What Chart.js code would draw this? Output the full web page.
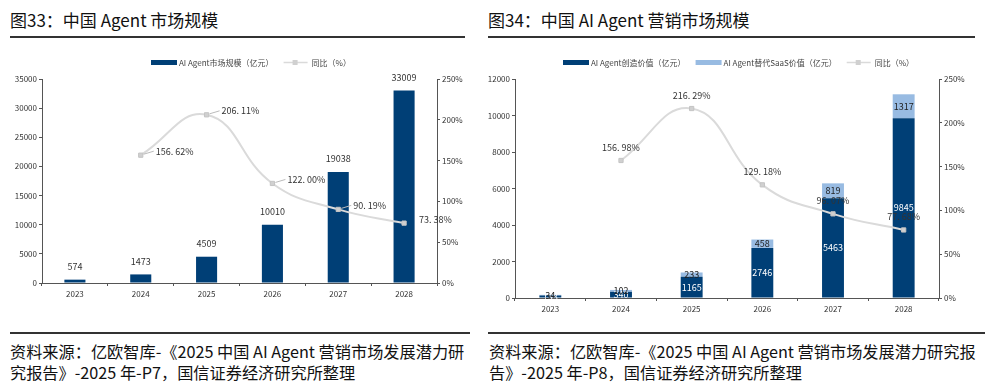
<!DOCTYPE html>
<html><head><meta charset="utf-8">
<script src="https://cdn.jsdelivr.net/npm/chart.js@4/dist/chart.umd.min.js"></script>
<style>
html,body{margin:0;padding:0;background:#fff;width:995px;height:389px;overflow:hidden;font-family:"Noto Sans CJK SC","Noto Sans",sans-serif;}
.abs{position:absolute;}
.title{font-size:17px;color:#111;white-space:nowrap;line-height:20px;}
.rule{background:#333;}
.src{font-size:16.2px;color:#111;line-height:21px;white-space:nowrap;}
</style></head><body>
<div class="abs title" style="left:10px;top:10px;">图33：中国 Agent 市场规模</div>
<div class="abs rule" style="left:10px;top:36px;width:455px;height:2px;"></div>
<div class="abs title" style="left:488px;top:10px;">图34：中国 AI Agent 营销市场规模</div>
<div class="abs rule" style="left:488px;top:36px;width:487px;height:2px;"></div>

<div class="abs" style="left:0;top:40px;width:480px;height:263px;"><canvas id="c1" width="480" height="263"></canvas></div>
<div class="abs" style="left:480px;top:40px;width:515px;height:278px;"><canvas id="c2" width="515" height="278"></canvas></div>

<div class="abs rule" style="left:10px;top:332px;width:460px;height:2px;"></div>
<div class="abs rule" style="left:488px;top:332px;width:497px;height:2px;"></div>
<div class="abs src" style="left:10px;top:341px;">资料来源：亿欧智库-《2025 中国 AI Agent 营销市场发展潜力研<br>究报告》-2025 年-P7，国信证券经济研究所整理</div>
<div class="abs src" style="left:489px;top:341px;">资料来源：亿欧智库-《2025 中国 AI Agent 营销市场发展潜力研究报<br>告》-2025 年-P8，国信证券经济研究所整理</div>

<script>
const years = ['2023','2024','2025','2026','2027','2028'];
const marketSize = [574, 1473, 4509, 10010, 19038, 33009];
const marketYoY = [null, 156.62, 206.11, 122.00, 90.19, 73.38];
const createdValue = [138, 340, 1165, 2746, 5463, 9845];
const saasValue = [34, 102, 233, 458, 819, 1317];
const marketingYoY = [null, 156.98, 216.29, 129.18, 96.07, 77.68];

const DARK = '#003f76';
const LIGHT = '#98bbe2';
const LINEC = '#dadada';
const PTC = '#d0d0d0';
const AXISC = '#555';
const TXT = '#333';
const FONT = '"Noto Sans CJK SC","Noto Sans",sans-serif';

function legendPlugin(items, startX, y){
  return {
    id:'customLegend',
    afterDraw(chart){
      const ctx = chart.ctx;
      ctx.save();
      ctx.font = '8px ' + FONT;
      ctx.textBaseline = 'middle';
      let x = startX;
      items.forEach(it=>{
        if(it.type==='bar'){
          ctx.fillStyle = it.color;
          ctx.fillRect(x, y-2, 26, 5);
          x += 28;
        } else {
          ctx.strokeStyle = LINEC; ctx.lineWidth = 1.5;
          ctx.beginPath(); ctx.moveTo(x, y+0.5); ctx.lineTo(x+24, y+0.5); ctx.stroke();
          ctx.fillStyle = PTC; ctx.fillRect(x+9, y-2, 5, 5);
          x += 28;
        }
        ctx.fillStyle = '#444';
        ctx.fillText(it.text, x, y+0.5);
        x += ctx.measureText(it.text).width + 10;
      });
      ctx.restore();
    }
  };
}

function fmtPct(v){ return v.toFixed(2).replace('.', '. ') + '%'; }

const labels1 = {
  id:'labels1',
  afterDatasetsDraw(chart){
    const ctx = chart.ctx;
    ctx.save();
    ctx.font = '9px ' + FONT;
    ctx.fillStyle = TXT;
    ctx.textAlign = 'center';
    ctx.textBaseline = 'middle';
    const bm = chart.getDatasetMeta(0);
    bm.data.forEach((b,i)=>{ ctx.fillText(String(marketSize[i]), b.x, b.y - 13); });
    const lm = chart.getDatasetMeta(1);
    ctx.textAlign = 'left';
    lm.data.forEach((p,i)=>{
      const v = marketYoY[i];
      if(v===null || v===undefined) return;
      const lx = p.x + 15, ly = p.y - 4;
      if(i < marketYoY.length-1){
        ctx.strokeStyle = '#bbb'; ctx.lineWidth = 1;
        ctx.beginPath(); ctx.moveTo(p.x+3, p.y-1); ctx.lineTo(lx-2, ly); ctx.stroke();
      }
      ctx.fillStyle = TXT;
      ctx.fillText(fmtPct(v), lx, ly);
    });
    ctx.restore();
  }
};

const labels2 = {
  id:'labels2',
  afterDatasetsDraw(chart){
    const ctx = chart.ctx;
    ctx.save();
    ctx.font = '9px ' + FONT;
    ctx.textAlign = 'center';
    ctx.textBaseline = 'middle';
    const m0 = chart.getDatasetMeta(0), m1 = chart.getDatasetMeta(1);
    m0.data.forEach((b,i)=>{
      ctx.fillStyle = '#fff';
      ctx.fillText(String(createdValue[i]), b.x, (b.y + b.base)/2);
    });
    m1.data.forEach((b,i)=>{
      ctx.fillStyle = '#222';
      ctx.fillText(String(saasValue[i]), b.x, (b.y + b.base)/2);
    });
    const lm = chart.getDatasetMeta(2);
    lm.data.forEach((p,i)=>{
      const v = marketingYoY[i];
      if(v===null || v===undefined) return;
      ctx.fillStyle = TXT;
      ctx.fillText(fmtPct(v), p.x, p.y - 13);
    });
    ctx.restore();
  }
};

function yAxis(pos, max, step, width, cb){
  return {
    position: pos, min:0, max:max,
    afterFit(s){ s.width = width; },
    ticks:{ stepSize:step, color:TXT, font:{size:8, family:FONT}, padding:2, callback:cb },
    grid:{ drawOnChartArea:false, color:AXISC, tickLength:3 },
    border:{ display:true, color:AXISC }
  };
}
function xAxis(stacked){
  return {
    stacked: stacked,
    afterFit(s){ s.height = 20; },
    ticks:{ color:TXT, font:{size:8, family:FONT}, padding:3 },
    grid:{ drawOnChartArea:false, offset:true, color:AXISC, tickLength:3 },
    border:{ display:true, color:AXISC }
  };
}

Chart.defaults.font.family = FONT;

new Chart(document.getElementById('c1'), {
  data:{
    labels: years,
    datasets:[
      { type:'bar', label:'AI Agent市场规模（亿元）', data: marketSize, backgroundColor: DARK,
        barPercentage:0.32, categoryPercentage:1, yAxisID:'y', order:1 },
      { type:'line', label:'同比（%）', data: marketYoY, borderColor: LINEC, borderWidth:2,
        backgroundColor: PTC, pointStyle:'rect', pointRadius:3, pointBorderColor:'#c4c4c4', pointBorderWidth:1,
        tension:0.45, yAxisID:'y1', order:0 }
    ]
  },
  options:{
    responsive:false, animation:false,
    layout:{ padding:{ top:39, left:0, right:0, bottom:0 } },
    plugins:{ legend:{display:false}, tooltip:{enabled:false} },
    scales:{
      x: xAxis(false),
      y: yAxis('left', 35000, 5000, 42),
      y1: yAxis('right', 250, 50, 43, v=>v+'%')
    }
  },
  plugins:[labels1, legendPlugin([
    {type:'bar', color:DARK, text:'AI Agent市场规模（亿元）'},
    {type:'line', text:'同比（%）'}
  ], 151, 22)]
});

new Chart(document.getElementById('c2'), {
  data:{
    labels: years,
    datasets:[
      { type:'bar', label:'AI Agent创造价值（亿元）', data: createdValue, backgroundColor: DARK,
        barPercentage:0.31, categoryPercentage:1, yAxisID:'y', stack:'s', order:1 },
      { type:'bar', label:'AI Agent替代SaaS价值（亿元）', data: saasValue, backgroundColor: LIGHT,
        barPercentage:0.31, categoryPercentage:1, yAxisID:'y', stack:'s', order:1 },
      { type:'line', label:'同比（%）', data: marketingYoY, borderColor: LINEC, borderWidth:2,
        backgroundColor: PTC, pointStyle:'rect', pointRadius:3, pointBorderColor:'#c4c4c4', pointBorderWidth:1,
        tension:0.45, yAxisID:'y1', order:0 }
    ]
  },
  options:{
    responsive:false, animation:false,
    layout:{ padding:{ top:39, left:0, right:0, bottom:0 } },
    plugins:{ legend:{display:false}, tooltip:{enabled:false} },
    scales:{
      x: xAxis(true),
      y: Object.assign(yAxis('left', 12000, 2000, 35), {stacked:true}),
      y1: yAxis('right', 250, 50, 56, v=>v+'%')
    }
  },
  plugins:[labels2, legendPlugin([
    {type:'bar', color:DARK, text:'AI Agent创造价值（亿元）'},
    {type:'bar', color:LIGHT, text:'AI Agent替代SaaS价值（亿元）'},
    {type:'line', text:'同比（%）'}
  ], 83, 22)]
});
</script>
</body></html>
